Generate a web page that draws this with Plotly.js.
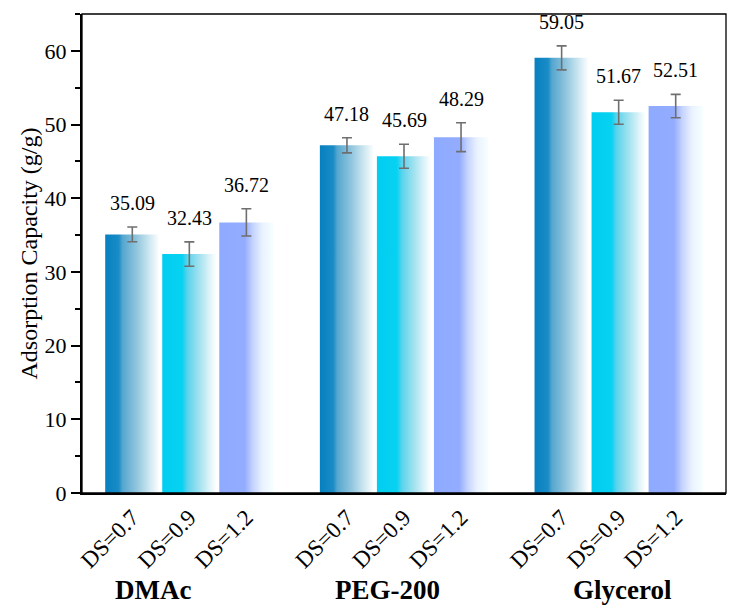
<!DOCTYPE html>
<html>
<head>
<meta charset="utf-8">
<script src="https://cdn.plot.ly/plotly-3.0.1.min.js"></script>
<style>
  html, body { margin: 0; padding: 0; background: #ffffff; }
  #chart { width: 736px; height: 612px; }
</style>
</head>
<body>
<div id="chart"></div>
<script>
// ---- data ----
const groups = ['DMAc', 'PEG-200', 'Glycerol'];
const dsLabels = ['DS=0.7', 'DS=0.9', 'DS=1.2'];
const ds07 = [35.09, 47.18, 59.05];
const ds09 = [32.43, 45.69, 51.67];
const ds12 = [36.72, 48.29, 52.51];
const err07 = [1.00, 1.02, 1.63];
const err09 = [1.65, 1.63, 1.63];
const err12 = [1.85, 1.96, 1.58];

// ---- styling ----
const series = [
  { name: 'DS=0.7', vals: ds07, errs: err07,
    scale: [[0, '#0680c0'], [0.25, '#1a8cc6'], [0.32, '#55a6cf'], [0.57, '#8ec4dd'], [0.82, '#cfe8f1'], [1, '#ffffff']] },
  { name: 'DS=0.9', vals: ds09, errs: err09,
    scale: [[0, '#00cdf0'], [0.37, '#08d2f2'], [0.46, '#5ad3ec'], [0.7, '#a7e3f0'], [0.9, '#e5f6fa'], [1, '#ffffff']] },
  { name: 'DS=1.2', vals: ds12, errs: err12,
    scale: [[0, '#8eaafe'], [0.47, '#93acff'], [0.62, '#c5d3ff'], [0.8, '#eaf2ff'], [1, '#f6ffff']] }
];
const step = 0.2657;           // distance between bar centres within a group
const halfW = step * 0.95 / 2; // half bar width
const FONT = 'Liberation Serif';

const traces = [];
const annotations = [];
const tickvals = [];
const ticktext = [];

series.forEach((s, j) => {
  const centres = groups.map((g, gi) => gi + (j - 1) * step);
  centres.forEach((c, gi) => {
    const v = s.vals[gi];
    traces.push({
      type: 'scatter', mode: 'lines',
      x: [c - halfW, c - halfW, c + halfW, c + halfW, c - halfW],
      y: [0, v, v, 0, 0],
      fill: 'toself',
      fillgradient: { type: 'horizontal', colorscale: s.scale },
      line: { width: 0, color: 'rgba(0,0,0,0)' },
      hoverinfo: 'skip', showlegend: false
    });
    annotations.push({
      x: c, y: v + s.errs[gi], xref: 'x', yref: 'y',
      text: v.toFixed(2), showarrow: false,
      yanchor: 'bottom', yshift: 11,
      font: { family: FONT, size: 20, color: '#000' }
    });
    tickvals.push(c);
    ticktext.push(dsLabels[j]);
  });
  traces.push({
    type: 'scatter', mode: 'markers',
    x: centres, y: s.vals,
    marker: { color: 'rgba(0,0,0,0)', size: 1 },
    error_y: { type: 'data', array: s.errs, visible: true, color: '#6f6f6f', thickness: 1.6, width: 5 },
    hoverinfo: 'skip', showlegend: false
  });
});

const groupX = [-0.169, 0.922, 2.017];
groups.forEach((g, gi) => {
  annotations.push({
    x: groupX[gi], y: -0.2025, xref: 'x', yref: 'paper',
    text: '<b>' + g + '</b>', showarrow: false,
    xanchor: 'center', yanchor: 'middle',
    font: { family: FONT, size: 27, color: '#000' }
  });
});

const layout = {
  width: 736, height: 612,
  margin: { l: 82, r: 10, t: 14, b: 119 },
  paper_bgcolor: '#ffffff', plot_bgcolor: '#ffffff',
  showlegend: false,
  xaxis: {
    range: [-0.5, 2.5], showgrid: false, zeroline: false,
    showline: true, linecolor: '#000', linewidth: 2,
    tickmode: 'array', tickvals: tickvals, ticktext: ticktext,
    tickangle: -45, ticks: '',
    tickfont: { family: FONT, size: 23, color: '#000' }
  },
  yaxis: {
    range: [0, 65], showgrid: false, zeroline: false,
    showline: true, linecolor: '#000', linewidth: 2,
    tick0: 0, dtick: 10, ticks: 'outside', ticklen: 9, tickwidth: 2, tickcolor: '#000',
    minor: { dtick: 5, ticks: 'outside', ticklen: 5, tickwidth: 2, tickcolor: '#000' },
    tickfont: { family: FONT, size: 22, color: '#000' },
    title: { text: 'Adsorption Capacity (g/g)', font: { family: FONT, size: 24, color: '#000' }, standoff: 0 }
  },
  shapes: [{
    type: 'rect', xref: 'paper', yref: 'paper', x0: 0, x1: 1, y0: 0, y1: 1,
    line: { color: '#000', width: 1.3 }, fillcolor: 'rgba(0,0,0,0)', layer: 'above'
  }],
  annotations: annotations
};

Plotly.newPlot('chart', traces, layout, { displayModeBar: false, staticPlot: true });
</script>
</body>
</html>
